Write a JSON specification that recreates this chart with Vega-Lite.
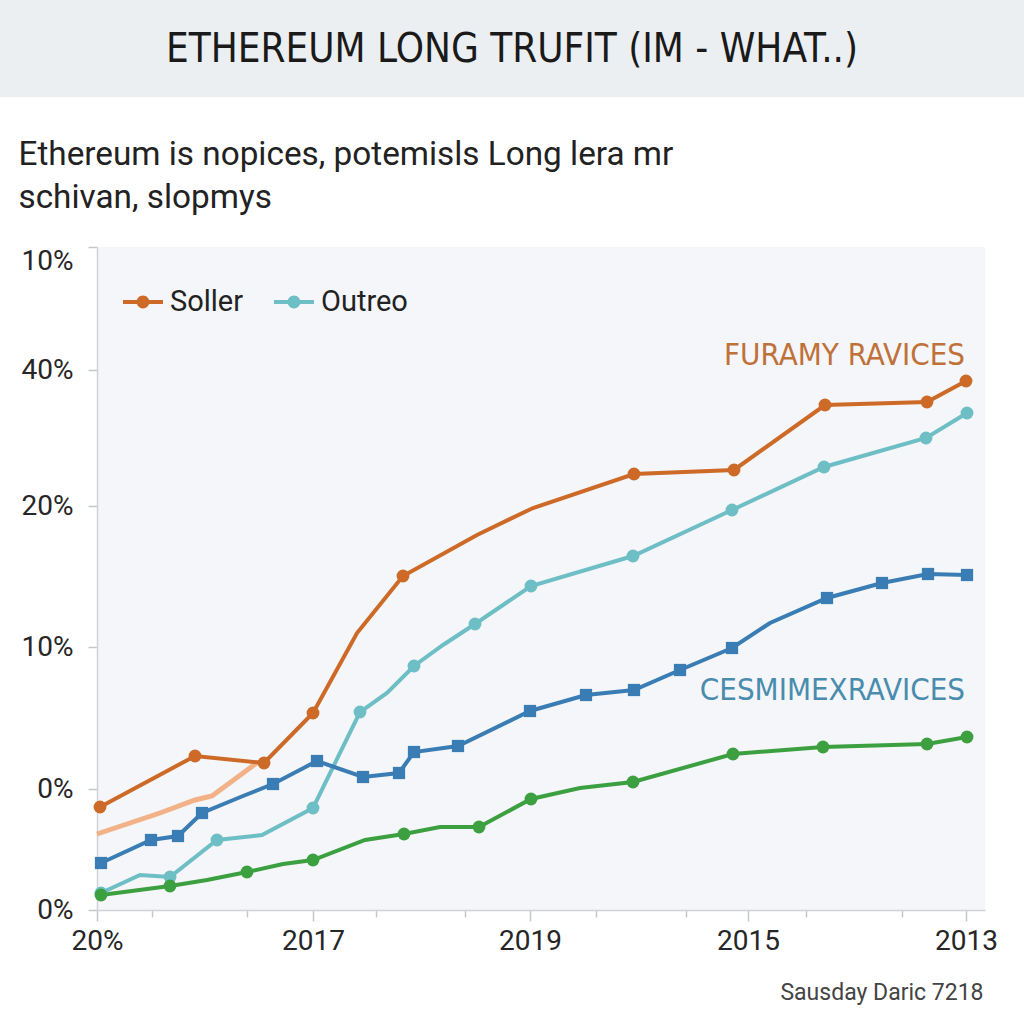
{
  "$schema": "https://vega.github.io/schema/vega-lite/v6.json",
  "width": 888,
  "height": 663,
  "autosize": {"type": "none"},
  "padding": {"left": 97, "top": 247, "right": 39, "bottom": 114},
  "background": "#ffffff",
  "title": {
    "text": "ETHEREUM LONG TRUFIT (IM - WHAT..)",
    "anchor": "middle",
    "frame": "bounds",
    "font": "DejaVu Sans Condensed, Liberation Sans Narrow, sans-serif",
    "fontSize": 40,
    "fontWeight": "normal",
    "color": "#1a1a1a",
    "offset": -70
  },
  "config": {
    "view": {"fill": "#f4f6f9", "stroke": null},
    "axis": {
      "labelFont": "Roboto",
      "labelFontSize": 28,
      "labelColor": "#262626",
      "domainColor": "#cfd3d8",
      "domainWidth": 1.5,
      "tickColor": "#c4c8cd",
      "tickWidth": 1.5,
      "grid": false,
      "labelOverlap": false,
      "labelBound": false
    }
  },
  "datasets": {
    "main": [
      {"series": "Soller", "x": 3, "y": 103, "obs": true},
      {"series": "Soller", "x": 98, "y": 154, "obs": true},
      {"series": "Soller", "x": 167, "y": 147, "obs": true},
      {"series": "Soller", "x": 216, "y": 197, "obs": true},
      {"series": "Soller", "x": 260, "y": 277, "obs": false},
      {"series": "Soller", "x": 306, "y": 334, "obs": true},
      {"series": "Soller", "x": 380, "y": 375, "obs": false},
      {"series": "Soller", "x": 436, "y": 402, "obs": false},
      {"series": "Soller", "x": 537, "y": 436, "obs": true},
      {"series": "Soller", "x": 637, "y": 440, "obs": true},
      {"series": "Soller", "x": 728, "y": 505, "obs": true},
      {"series": "Soller", "x": 830, "y": 508, "obs": true},
      {"series": "Soller", "x": 869, "y": 529, "obs": true},
      {"series": "Outreo", "x": 4, "y": 17, "obs": true},
      {"series": "Outreo", "x": 43, "y": 35, "obs": false},
      {"series": "Outreo", "x": 73, "y": 33, "obs": true},
      {"series": "Outreo", "x": 120, "y": 70, "obs": true},
      {"series": "Outreo", "x": 165, "y": 75, "obs": false},
      {"series": "Outreo", "x": 216, "y": 102, "obs": true},
      {"series": "Outreo", "x": 263, "y": 198, "obs": true},
      {"series": "Outreo", "x": 290, "y": 217, "obs": false},
      {"series": "Outreo", "x": 317, "y": 244, "obs": true},
      {"series": "Outreo", "x": 346, "y": 265, "obs": false},
      {"series": "Outreo", "x": 378, "y": 286, "obs": true},
      {"series": "Outreo", "x": 434, "y": 324, "obs": true},
      {"series": "Outreo", "x": 536, "y": 354, "obs": true},
      {"series": "Outreo", "x": 635, "y": 400, "obs": true},
      {"series": "Outreo", "x": 727, "y": 443, "obs": true},
      {"series": "Outreo", "x": 829, "y": 472, "obs": true},
      {"series": "Outreo", "x": 870, "y": 497, "obs": true},
      {"series": "Cesmimex", "x": 4, "y": 47, "obs": true},
      {"series": "Cesmimex", "x": 54, "y": 70, "obs": true},
      {"series": "Cesmimex", "x": 81, "y": 74, "obs": true},
      {"series": "Cesmimex", "x": 105, "y": 97, "obs": true},
      {"series": "Cesmimex", "x": 146, "y": 114, "obs": false},
      {"series": "Cesmimex", "x": 176, "y": 126, "obs": true},
      {"series": "Cesmimex", "x": 220, "y": 149, "obs": true},
      {"series": "Cesmimex", "x": 266, "y": 133, "obs": true},
      {"series": "Cesmimex", "x": 302, "y": 137, "obs": true},
      {"series": "Cesmimex", "x": 317, "y": 158, "obs": true},
      {"series": "Cesmimex", "x": 361, "y": 164, "obs": true},
      {"series": "Cesmimex", "x": 433, "y": 199, "obs": true},
      {"series": "Cesmimex", "x": 489, "y": 215, "obs": true},
      {"series": "Cesmimex", "x": 537, "y": 220, "obs": true},
      {"series": "Cesmimex", "x": 583, "y": 240, "obs": true},
      {"series": "Cesmimex", "x": 635, "y": 262, "obs": true},
      {"series": "Cesmimex", "x": 673, "y": 287, "obs": false},
      {"series": "Cesmimex", "x": 730, "y": 312, "obs": true},
      {"series": "Cesmimex", "x": 785, "y": 327, "obs": true},
      {"series": "Cesmimex", "x": 831, "y": 336, "obs": true},
      {"series": "Cesmimex", "x": 870, "y": 335, "obs": true},
      {"series": "Green", "x": 4, "y": 15, "obs": true},
      {"series": "Green", "x": 73, "y": 24, "obs": true},
      {"series": "Green", "x": 110, "y": 30, "obs": false},
      {"series": "Green", "x": 150, "y": 38, "obs": true},
      {"series": "Green", "x": 186, "y": 46, "obs": false},
      {"series": "Green", "x": 216, "y": 50, "obs": true},
      {"series": "Green", "x": 268, "y": 70, "obs": false},
      {"series": "Green", "x": 307, "y": 76, "obs": true},
      {"series": "Green", "x": 343, "y": 83, "obs": false},
      {"series": "Green", "x": 382, "y": 83, "obs": true},
      {"series": "Green", "x": 434, "y": 111, "obs": true},
      {"series": "Green", "x": 483, "y": 122, "obs": false},
      {"series": "Green", "x": 536, "y": 128, "obs": true},
      {"series": "Green", "x": 636, "y": 156, "obs": true},
      {"series": "Green", "x": 726, "y": 163, "obs": true},
      {"series": "Green", "x": 830, "y": 166, "obs": true},
      {"series": "Green", "x": 870, "y": 173, "obs": true}
    ],
    "trail": [
      {"x": 0, "y": 76},
      {"x": 63, "y": 97},
      {"x": 98, "y": 110},
      {"x": 115, "y": 114},
      {"x": 138, "y": 131},
      {"x": 161, "y": 148}
    ]
  },
  "layer": [
    {
      "data": {"values": [{}]},
      "mark": {"type": "rect", "color": "#eceff2"},
      "encoding": {
        "x": {"datum": -97, "type": "quantitative", "scale": {"domain": [0, 888]}},
        "x2": {"datum": 927},
        "y": {"datum": 813, "type": "quantitative", "scale": {"domain": [0, 663]}},
        "y2": {"datum": 910}
      }
    },
    {
      "data": {"name": "trail"},
      "mark": {"type": "line", "color": "#f2a474", "strokeWidth": 5, "opacity": 0.85},
      "encoding": {
        "x": {"field": "x", "type": "quantitative"},
        "y": {"field": "y", "type": "quantitative"}
      }
    },
    {
      "data": {"name": "main"},
      "mark": {"type": "line", "strokeWidth": 4},
      "encoding": {
        "x": {
          "field": "x",
          "type": "quantitative",
          "scale": {"domain": [0, 888], "nice": false, "zero": false},
          "axis": {
            "values": [0, 55, 150, 216, 279, 368, 433, 499, 589, 651, 709, 805, 869],
            "labelExpr": "datum.value == 0 ? '20%' : datum.value == 216 ? '2017' : datum.value == 433 ? '2019' : datum.value == 651 ? '2015' : datum.value == 869 ? '2013' : ''",
            "labelFlush": false,
            "labelPadding": 6,
            "tickSize": {"condition": {"test": "indexof([0, 216, 433, 651, 869], datum.value) >= 0", "value": 11}, "value": 7},
            "title": "Sausday Daric 7218",
            "titleFont": "Roboto",
            "titleFontSize": 23,
            "titleFontWeight": "normal",
            "titleColor": "#444444",
            "titleAnchor": "end",
            "titleAlign": "right",
            "titleBaseline": "alphabetic",
            "titleX": 886,
            "titleY": 89
          }
        },
        "y": {
          "field": "y",
          "type": "quantitative",
          "scale": {"domain": [0, 663], "nice": false, "zero": false},
          "axis": {
            "values": [0, 121, 263, 404, 540, 663],
            "labelExpr": "datum.value == 0 ? '0%' : datum.value == 121 ? '0%' : datum.value == 263 ? '10%' : datum.value == 404 ? '20%' : datum.value == 540 ? '40%' : '10%'",
            "labelBaseline": {"condition": {"test": "datum.value > 600", "value": "top"}, "value": "middle"},
            "tickSize": 9,
            "labelPadding": 15,
            "title": ["Ethereum is nopices, potemisls Long lera mr", "schivan, slopmys"],
            "titleAngle": 0,
            "titleAlign": "left",
            "titleBaseline": "top",
            "titleX": -79,
            "titleY": -109,
            "titleFont": "Roboto",
            "titleFontSize": 33.3,
            "titleFontWeight": "normal",
            "titleColor": "#222222",
            "titleLineHeight": 43
          }
        },
        "color": {
          "field": "series",
          "type": "nominal",
          "scale": {
            "domain": ["Soller", "Outreo", "Cesmimex", "Green"],
            "range": ["#cd6a28", "#6ebec6", "#3a7db4", "#3ca041"]
          },
          "legend": {
            "values": ["Soller", "Outreo"],
            "orient": "none",
            "legendX": 26,
            "legendY": 35,
            "direction": "horizontal",
            "title": null,
            "padding": 0,
            "symbolType": "M-1,-0.1L1,-0.1L1,0.1L-1,0.1ZM0.32,0A0.32,0.32,0,1,1,-0.32,0A0.32,0.32,0,1,1,0.32,0Z",
            "symbolSize": 1600,
            "symbolStrokeWidth": 0,
            "labelFont": "Roboto",
            "labelFontSize": 29,
            "labelColor": "#222222",
            "labelOffset": 7,
            "columnPadding": 30,
            "encode": {
              "symbols": {
                "update": {
                  "fill": {"scale": "color", "field": "value"},
                  "strokeWidth": {"value": 0},
                  "opacity": {"value": 1}
                }
              }
            }
          }
        }
      }
    },
    {
      "data": {"name": "main"},
      "transform": [{"filter": "datum.obs && datum.series != 'Cesmimex'"}],
      "mark": {"type": "circle", "size": 165, "opacity": 1},
      "encoding": {
        "x": {"field": "x", "type": "quantitative"},
        "y": {"field": "y", "type": "quantitative"},
        "color": {"field": "series", "type": "nominal", "legend": null}
      }
    },
    {
      "data": {"name": "main"},
      "transform": [{"filter": "datum.obs && datum.series == 'Cesmimex'"}],
      "mark": {"type": "square", "size": 150, "opacity": 1},
      "encoding": {
        "x": {"field": "x", "type": "quantitative"},
        "y": {"field": "y", "type": "quantitative"},
        "color": {"field": "series", "type": "nominal", "legend": null}
      }
    },
    {
      "data": {"values": [{}]},
      "mark": {"type": "text", "align": "right", "baseline": "alphabetic", "font": "DejaVu Sans Condensed, Liberation Sans Narrow, sans-serif", "fontSize": 31, "color": "#c0713a"},
      "encoding": {
        "x": {"datum": 868, "type": "quantitative"},
        "y": {"datum": 545, "type": "quantitative"},
        "text": {"value": "FURAMY RAVICES"}
      }
    },
    {
      "data": {"values": [{}]},
      "mark": {"type": "text", "align": "right", "baseline": "alphabetic", "font": "DejaVu Sans Condensed, Liberation Sans Narrow, sans-serif", "fontSize": 31, "color": "#4a8cad"},
      "encoding": {
        "x": {"datum": 868, "type": "quantitative"},
        "y": {"datum": 210, "type": "quantitative"},
        "text": {"value": "CESMIMEXRAVICES"}
      }
    }
  ]
}
